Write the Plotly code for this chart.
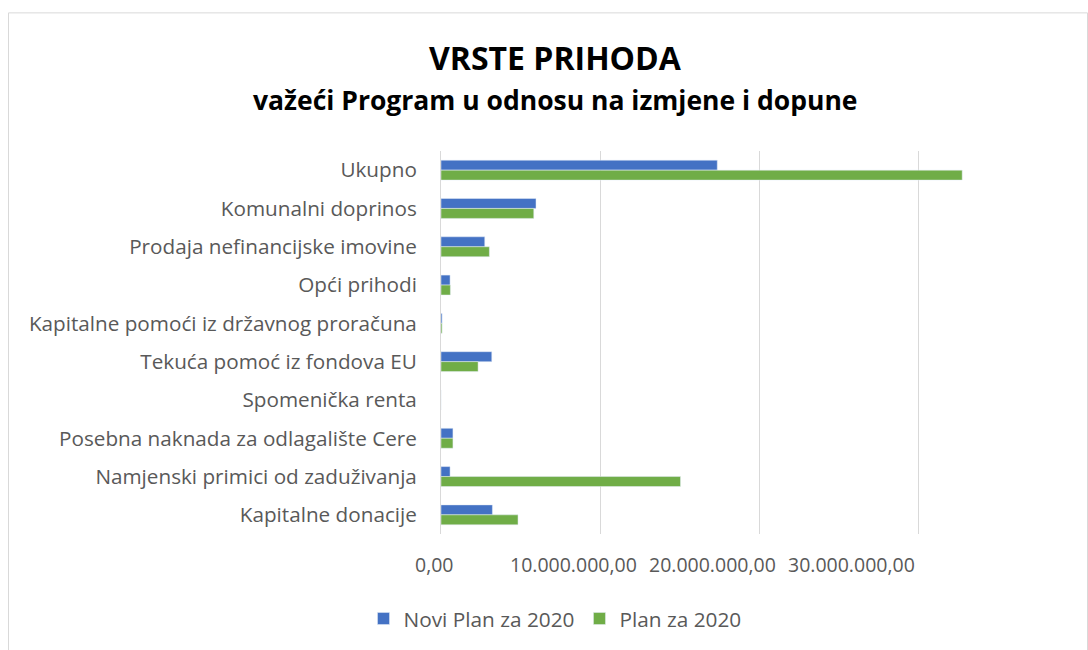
import plotly.graph_objects as go

categories = [
    "Ukupno",
    "Komunalni doprinos",
    "Prodaja nefinancijske imovine",
    "Opći prihodi",
    "Kapitalne pomoći iz državnog proračuna",
    "Tekuća pomoć iz fondova EU",
    "Spomenička renta",
    "Posebna naknada za odlagalište Cere",
    "Namjenski primici od zaduživanja",
    "Kapitalne donacije",
]
novi_plan = [17360000, 5970000, 2750000, 570000, 70000, 3190000, 0, 750000, 570000, 3230000]
plan = [32750000, 5830000, 3040000, 590000, 70000, 2330000, 0, 750000, 15050000, 4840000]
tick_vals = [0, 10000000, 20000000, 30000000]
tick_text = ["0,00", "10.000.000,00", "20.000.000,00", "30.000.000,00"]

W, H = 1088, 650
L, R, T, B = 441, 90, 151, 115
pw, ph = W - L - R, H - T - B
XMAX = 35000000

def px_x(p):
    return (p - L) / pw

def px_y(p):
    return 1 - (p - T) / ph

font_family = "'Open Sans', sans-serif"
grey = "#595959"

fig = go.Figure()
fig.add_trace(go.Bar(y=categories, x=novi_plan, orientation="h", name="Novi Plan za 2020",
                     marker=dict(color="#4472C4")))
fig.add_trace(go.Bar(y=categories, x=plan, orientation="h", name="Plan za 2020",
                     marker=dict(color="#70AD47")))

# tick labels rendered as text below the axis (reference places them slightly compressed leftwards)
tick_annots = []
for v, t in zip(tick_vals, tick_text):
    xp = L - 6.5 + (v / XMAX) * pw * 0.874
    tick_annots.append(dict(text=t, x=px_x(xp), y=px_y(566), xref="paper", yref="paper",
                            xanchor="center", yanchor="middle", showarrow=False,
                            font=dict(size=19.5, color=grey, family=font_family)))

fig.update_layout(
    width=W, height=H,
    margin=dict(l=L, r=R, t=T, b=B),
    paper_bgcolor="white", plot_bgcolor="white",
    barmode="group", bargap=0.48, bargroupgap=0,
    font=dict(family=font_family, color=grey, size=20.7),
    showlegend=True,
    legend=dict(orientation="h", x=px_x(555), xanchor="center", y=px_y(619), yanchor="middle",
                font=dict(size=20.8, color=grey), itemwidth=30, traceorder="normal"),
    xaxis=dict(range=[0, XMAX], tickvals=tick_vals, ticktext=tick_text, showticklabels=False,
               showgrid=True, gridcolor="#d9d9d9", gridwidth=1, zeroline=False,
               showline=False, ticks=""),
    yaxis=dict(autorange="reversed", showgrid=False, showline=True, linecolor="#d9d9d9",
               linewidth=1, ticks="", tickfont=dict(size=20.7, color=grey),
               ticklabelstandoff=19),
    annotations=[
        dict(text="<b>VRSTE PRIHODA</b>", x=px_x(555), y=px_y(57), xref="paper", yref="paper",
             xanchor="center", yanchor="middle", showarrow=False,
             font=dict(size=32, color="black", family=font_family)),
        dict(text="<b>važeći Program u odnosu na izmjene i dopune</b>", x=px_x(555), y=px_y(100),
             xref="paper", yref="paper", xanchor="center", yanchor="middle", showarrow=False,
             font=dict(size=26.5, color="black", family=font_family)),
    ] + tick_annots,
    shapes=[
        dict(type="rect", xref="paper", yref="paper", x0=px_x(8.5), x1=px_x(1087.5),
             y0=px_y(660), y1=px_y(12.5), line=dict(color="#d9d9d9", width=1), layer="below"),
    ],
)

fig.write_html("out.html")
